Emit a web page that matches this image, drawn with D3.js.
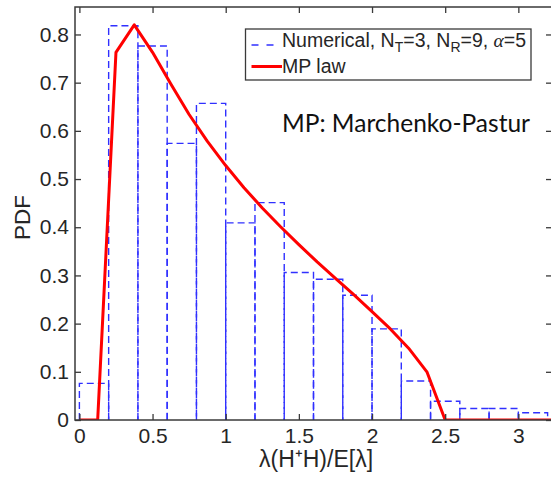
<!DOCTYPE html>
<html>
<head>
<meta charset="utf-8">
<script src="https://cdn.jsdelivr.net/npm/d3@7"></script>
<style>
  html, body { margin: 0; padding: 0; background: #fff; }
  svg { display: block; }
  text { font-family: "Liberation Sans", Arial, sans-serif; }
</style>
</head>
<body>
<svg id="chart" width="551" height="481"></svg>
<script>
// ---- Data ----
// Histogram bins (left edges, width 0.2)
const binStarts = [0, 0.2, 0.4, 0.6, 0.8, 1.0, 1.2, 1.4, 1.6, 1.8, 2.0, 2.2, 2.4, 2.6, 2.8, 3.0];
const binWidth = 0.2;
const numericalPdf = [0.076, 0.818, 0.776, 0.574, 0.657, 0.409, 0.451, 0.306, 0.292, 0.259, 0.189, 0.081, 0.039, 0.024, 0.024, 0.015];
// MP law curve (sampled every 0.125)
const mpX = [0, 0.125, 0.25, 0.375, 0.5, 0.625, 0.75, 0.875, 1.0, 1.125, 1.25, 1.375, 1.5, 1.625, 1.75, 1.875, 2.0, 2.125, 2.25, 2.375, 2.5, 2.625, 2.75, 2.875, 3.0, 3.125, 3.25];
const mpY = [0, 0, 0.763, 0.820, 0.763, 0.697, 0.634, 0.578, 0.528, 0.482, 0.440, 0.401, 0.364, 0.328, 0.294, 0.260, 0.225, 0.189, 0.149, 0.100, 0, 0, 0, 0, 0, 0, 0];
// Tick labels
const xTicks = [0, 0.5, 1, 1.5, 2, 2.5, 3];
const xTickLabels = ["0", "0.5", "1", "1.5", "2", "2.5", "3"];
const yTicks = [0, 0.1, 0.2, 0.3, 0.4, 0.5, 0.6, 0.7, 0.8];
const yTickLabels = ["0", "0.1", "0.2", "0.3", "0.4", "0.5", "0.6", "0.7", "0.8"];
const xLabel = "λ(H⁺H)/E[λ]";
const yLabel = "PDF";
const annotation = "MP: Marchenko-Pastur";

// ---- Layout ----
const L = 75, R = 552, T = 7, B = 420;
const svg = d3.select("#chart");
const x = d3.scaleLinear().domain([-0.03, 3.23]).range([L, R]);
const y = d3.scaleLinear().domain([0, 0.857]).range([B, T]);
const axisColor = "#3a3a3a";
const labelColor = "#262626";

svg.append("clipPath").attr("id", "plotclip")
  .append("rect").attr("x", L).attr("y", T).attr("width", R - L).attr("height", B - T);

const plot = svg.append("g").attr("clip-path", "url(#plotclip)");

// Histogram bars (dashed outlines, each bar drawn separately)
plot.selectAll("path.bar").data(binStarts).enter().append("path")
  .attr("class", "bar")
  .attr("d", (d, i) => {
    const x0 = x(d), x1 = x(d + binWidth), yt = y(numericalPdf[i]), yb = y(0);
    return `M${x0},${yb}L${x0},${yt}L${x1},${yt}L${x1},${yb}`;
  })
  .attr("fill", "none")
  .attr("stroke", "#3030ff")
  .attr("stroke-width", 1.4)
  .attr("stroke-dasharray", "7,4");

// MP law line
const line = d3.line().x(d => x(d[0])).y(d => y(d[1]));
plot.append("path")
  .datum(mpX.map((v, i) => [v, mpY[i]]))
  .attr("d", line)
  .attr("fill", "none")
  .attr("stroke", "#ff0000")
  .attr("stroke-width", 3)
  .attr("stroke-linejoin", "round");

// Axes (MATLAB style: inward ticks on all four sides)
const fontSize = 21;
const axB = d3.axisBottom(x).tickValues(xTicks).tickFormat((d, i) => xTickLabels[i]).tickSizeInner(-6).tickSizeOuter(0).tickPadding(8);
const axT = d3.axisTop(x).tickValues(xTicks).tickFormat("").tickSizeInner(-6).tickSizeOuter(0);
const axLf = d3.axisLeft(y).tickValues(yTicks).tickFormat((d, i) => yTickLabels[i]).tickSizeInner(-6).tickSizeOuter(0).tickPadding(6);
const axRt = d3.axisRight(y).tickValues(yTicks).tickFormat("").tickSizeInner(-6).tickSizeOuter(0);

function styleAxis(g) {
  g.select(".domain").remove();
  g.selectAll(".tick line").attr("stroke", axisColor).attr("stroke-width", 1.3);
  g.selectAll(".tick text").attr("fill", labelColor).style("font-size", fontSize + "px")
    .style("font-family", "'Liberation Sans', Arial, sans-serif");
}
svg.append("g").attr("transform", `translate(0,${B})`).call(axB).call(styleAxis);
svg.append("g").attr("transform", `translate(0,${T})`).call(axT).call(styleAxis);
svg.append("g").attr("transform", `translate(${L},0)`).call(axLf).call(styleAxis);
svg.append("g").attr("transform", `translate(${R},0)`).call(axRt).call(styleAxis);

// Box
svg.append("rect").attr("x", L).attr("y", T).attr("width", R - L).attr("height", B - T)
  .attr("fill", "none").attr("stroke", axisColor).attr("stroke-width", 1.5);

// Axis labels
svg.append("text").attr("x", 316).attr("y", 467).attr("text-anchor", "middle")
  .attr("fill", labelColor).style("font-size", "23px").text(xLabel);
svg.append("text").attr("transform", `translate(30,${(T + B) / 2 + 4}) rotate(-90)`).attr("text-anchor", "middle")
  .attr("fill", labelColor).style("font-size", "22.5px").text(yLabel);

// Legend
const lg = svg.append("g");
lg.append("rect").attr("x", 245.5).attr("y", 29).attr("width", 285.5).attr("height", 51)
  .attr("fill", "#fff").attr("stroke", axisColor).attr("stroke-width", 1.3);
lg.append("line").attr("x1", 251.5).attr("x2", 274).attr("y1", 45).attr("y2", 45)
  .attr("stroke", "#3030ff").attr("stroke-width", 1.4).attr("stroke-dasharray", "7,8");
lg.append("line").attr("x1", 251.5).attr("x2", 282).attr("y1", 66.5).attr("y2", 66.5)
  .attr("stroke", "#ff0000").attr("stroke-width", 3);
const t1 = lg.append("text").attr("x", 282).attr("y", 46.5).attr("fill", labelColor).style("font-size", "19.5px");
t1.append("tspan").text("Numerical, N");
t1.append("tspan").attr("dy", 5).style("font-size", "14px").text("T");
t1.append("tspan").attr("dy", -5).text("=3, N");
t1.append("tspan").attr("dy", 5).style("font-size", "14px").text("R");
t1.append("tspan").attr("dy", -5).text("=9, ");
t1.append("tspan").style("font-style", "italic").style("font-family", "'Liberation Serif', serif").text("α");
t1.append("tspan").text("=5");
lg.append("text").attr("x", 282).attr("y", 73.3).attr("fill", labelColor).style("font-size", "19.5px").text("MP law");

// Annotation
svg.append("text").attr("x", 282).attr("y", 131.5).attr("fill", "#111")
  .style("font-family", "Lato, 'Open Sans', sans-serif").style("font-size", "24.5px").text(annotation);
</script>
</body>
</html>
